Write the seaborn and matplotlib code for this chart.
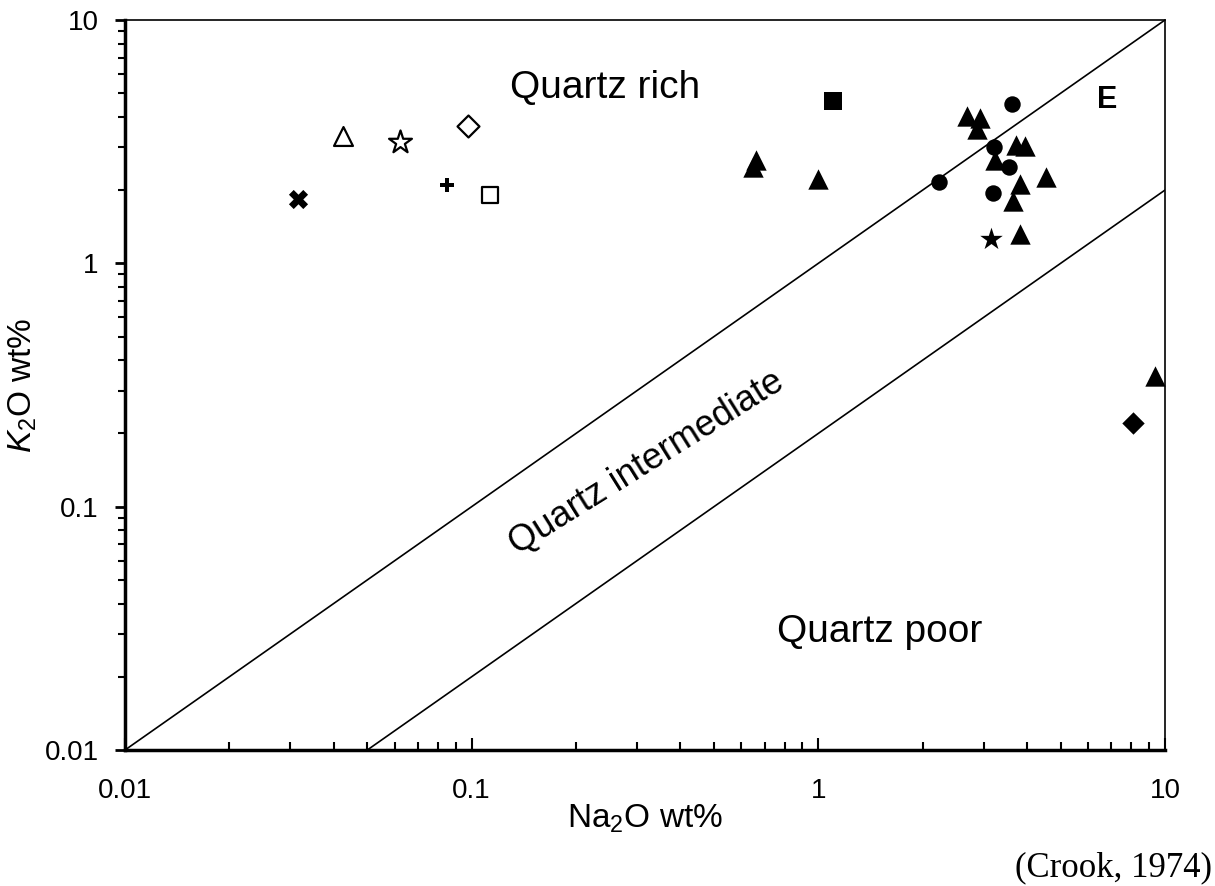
import numpy as np
import pandas as pd
import matplotlib
matplotlib.use('Agg')
import matplotlib.pyplot as plt
import seaborn as sns

# boundary lines of the Crook (1974) diagram
rich_x = [0.01, 10]
rich_y = [0.01, 10]
poor_x = [0.05, 10]
poor_y = [0.01, 2]

# filled triangles
tri_na = [0.66, 0.65, 1.0, 2.68, 2.93, 2.87, 3.71, 3.94, 3.23, 4.53, 3.81, 3.64, 3.81, 9.35]
tri_k = [2.66, 2.49, 2.22, 4.03, 3.96, 3.57, 3.07, 3.04, 2.66, 2.27, 2.12, 1.80, 1.32, 0.345]
# filled circles
circ_na = [3.62, 3.21, 3.55, 2.23, 3.19]
circ_k = [4.52, 3.01, 2.49, 2.16, 1.95]
# single samples
sq_na, sq_k = [1.10], [4.65]
star_na, star_k = [3.15], [1.26]
dia_na, dia_k = [8.08], [0.221]
# open / other symbols
xcross_na, xcross_k = [0.0316], [1.84]
otri_na, otri_k = [0.0426], [3.34]
ostar_na, ostar_k = [0.062], [3.16]
odia_na, odia_k = [0.0976], [3.67]
plus_na, plus_k = [0.0848], [2.10]
osq_na, osq_k = [0.113], [1.91]

tick_vals = [0.01, 0.1, 1, 10]
tick_labels = ['0.01', '0.1', '1', '10']

sns.set_style('ticks')
plt.rcParams['font.family'] = ['Liberation Sans', 'DejaVu Sans']
plt.rcParams['mathtext.fontset'] = 'custom'
plt.rcParams['mathtext.rm'] = 'Liberation Sans'
plt.rcParams['mathtext.it'] = 'Liberation Sans:italic'
for key in ['text.color', 'axes.labelcolor', 'xtick.color', 'ytick.color', 'axes.edgecolor']:
    plt.rcParams[key] = 'black'

fig = plt.figure(figsize=(12.15, 8.86), dpi=100)
ax = fig.add_axes([0.1029, 0.1535, 0.8559, 0.8239])

# boundaries
sns.lineplot(x=rich_x, y=rich_y, ax=ax, color='black', lw=1.2)
sns.lineplot(x=poor_x, y=poor_y, ax=ax, color='black', lw=1.2)

# (x, y, marker, size, filled)
groups = [
    (tri_na, tri_k, '^', 215, True),
    (circ_na, circ_k, 'o', 140, True),
    (sq_na, sq_k, 's', 150, True),
    (star_na, star_k, '*', 290, True),
    (dia_na, dia_k, 'D', 130, True),
    (xcross_na, xcross_k, 'X', 190, True),
    (plus_na, plus_k, 'P', 90, True),
    (otri_na, otri_k, '^', 185, False),
    (ostar_na, ostar_k, '*', 300, False),
    (odia_na, odia_k, 'D', 125, False),
    (osq_na, osq_k, 's', 135, False),
]
for xs, ys, mk, sz, filled in groups:
    sns.scatterplot(x=xs, y=ys, ax=ax, marker=mk, s=sz,
                    color='black' if filled else 'white',
                    edgecolor='black', linewidth=0 if filled else 1.6,
                    zorder=3)

ax.set_xscale('log')
ax.set_yscale('log')
ax.set_xlim(0.01, 10)
ax.set_ylim(0.01, 10)
ax.set_xticks(tick_vals)
ax.set_xticklabels(tick_labels)
ax.set_yticks(tick_vals)
ax.set_yticklabels(tick_labels)

ax.tick_params(axis='x', which='major', direction='in', length=9, width=1.5,
               labelsize=20, pad=20)
ax.tick_params(axis='x', which='minor', direction='in', length=6, width=1.5)
ax.tick_params(axis='y', which='major', direction='out', length=7, width=2,
               labelsize=20, pad=12)
ax.tick_params(axis='y', which='minor', direction='out', length=5, width=1.5)

for side in ['left', 'bottom']:
    ax.spines[side].set_linewidth(2.5)
for side in ['top', 'right']:
    ax.spines[side].set_linewidth(1.2)
    ax.spines[side].set_visible(True)

ax.set_xlabel(r'Na$_\mathregular{2}$O wt%', fontsize=24, labelpad=-1)
ax.set_ylabel(r'$K_\mathregular{2}$O wt%', fontsize=24, labelpad=4)

ax.text(0.4615, 0.907, 'Quartz rich', transform=ax.transAxes, fontsize=28,
        ha='center', va='center')
ax.text(0.944, 0.890, 'E', transform=ax.transAxes, fontsize=22,
        fontweight='bold', ha='center', va='center')
ax.text(0.502, 0.393, 'Quartz intermediate', transform=ax.transAxes, fontsize=26,
        ha='center', va='center', rotation=32, rotation_mode='anchor')
ax.text(0.726, 0.162, 'Quartz poor', transform=ax.transAxes, fontsize=28,
        ha='center', va='center')

fig.text(0.9975, 0.021, '(Crook, 1974)', fontsize=25, family='Liberation Serif',
         ha='right', va='center')

fig.savefig('out.png', dpi=100)
